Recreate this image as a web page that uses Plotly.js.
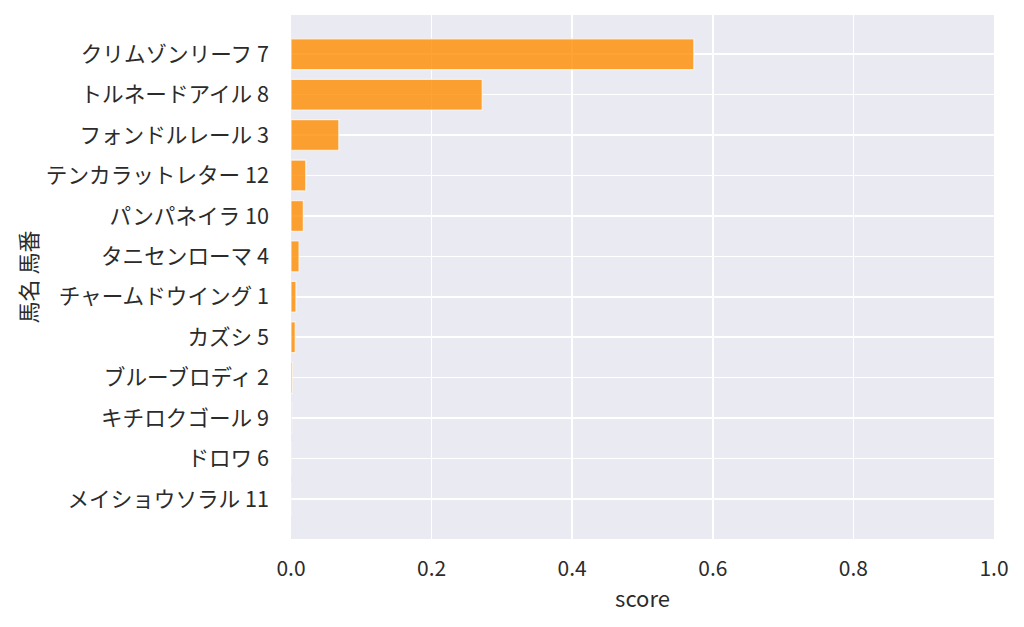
<!DOCTYPE html>
<html>
<head>
<meta charset="utf-8">
<script src="https://cdn.plot.ly/plotly-3.0.1.min.js"></script>
<style>
  html, body { margin: 0; padding: 0; background: #ffffff; }
  #chart { width: 1024px; height: 627px; }
</style>
</head>
<body>
<div id="chart"></div>
<script>
// horses, top to bottom, as "name number"
const horses = [
    'クリムゾンリーフ 7',
    'トルネードアイル 8',
    'フォンドルレール 3',
    'テンカラットレター 12',
    'パンパネイラ 10',
    'タニセンローマ 4',
    'チャームドウイング 1',
    'カズシ 5',
    'ブルーブロディ 2',
    'キチロクゴール 9',
    'ドロワ 6',
    'メイショウソラル 11'
];
const scores = [0.573, 0.272, 0.068, 0.021, 0.0175, 0.0114, 0.007, 0.006, 0.002, 0.001, 0.0005, 0.0003];
const xTicks = [0, 0.2, 0.4, 0.6, 0.8, 1.0];
const xTickLabels = ['0.0', '0.2', '0.4', '0.6', '0.8', '1.0'];

const fontFamily = '"Noto Sans CJK JP", "Noto Sans", sans-serif';
const textColor = '#2b2b2b';

const data = [{
    type: 'bar',
    orientation: 'h',
    x: scores,
    y: horses,
    width: 0.76,
    marker: {
        color: 'rgba(255,140,0,0.8)',
        line: { color: 'rgba(255,255,255,0.7)', width: 1.2 }
    },
    hoverinfo: 'x+y'
}];

const layout = {
    width: 1024,
    height: 627,
    margin: { l: 291, r: 30, t: 15, b: 88 },
    paper_bgcolor: '#ffffff',
    plot_bgcolor: '#eaeaf2',
    showlegend: false,
    font: { family: fontFamily, size: 22, color: textColor },
    xaxis: {
        range: [0, 1],
        tickvals: xTicks,
        ticktext: xTickLabels,
        showgrid: true,
        gridcolor: '#ffffff',
        gridwidth: 1.5,
        zeroline: false,
        showline: false,
        ticks: '',
        ticklabelstandoff: 15,
        tickfont: { family: fontFamily, size: 21, color: textColor },
        title: {
            text: 'score',
            standoff: 10,
            font: { family: fontFamily, size: 22, color: textColor }
        }
    },
    yaxis: {
        type: 'category',
        categoryorder: 'array',
        categoryarray: horses,
        range: [11.99, -0.97],
        showgrid: true,
        gridcolor: '#ffffff',
        gridwidth: 1.5,
        zeroline: false,
        showline: false,
        ticks: '',
        ticklabelstandoff: 21,
        tickfont: { family: fontFamily, size: 21.6, color: textColor },
        title: {
            text: '馬名 馬番',
            standoff: 2,
            font: { family: fontFamily, size: 22, color: textColor }
        }
    }
};

Plotly.newPlot('chart', data, layout, { staticPlot: true, displayModeBar: false });
</script>
</body>
</html>
